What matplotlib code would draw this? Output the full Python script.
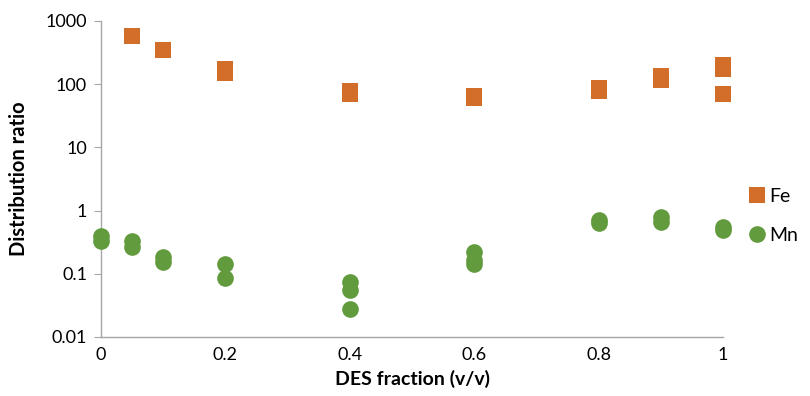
import matplotlib.pyplot as plt
import matplotlib.ticker as mticker

# data
fe_x = [0.05, 0.1, 0.2, 0.2, 0.4, 0.4, 0.6, 0.6, 0.8, 0.8, 0.9, 0.9, 1.0, 1.0, 1.0]
fe_d = [570, 345, 172, 148, 78, 70, 66, 61, 88, 77, 135, 116, 198, 172, 70]

mn_x = [0, 0, 0.05, 0.05, 0.1, 0.1, 0.2, 0.2, 0.4, 0.4, 0.4, 0.6, 0.6, 0.6,
        0.8, 0.8, 0.9, 0.9, 1.0, 1.0]
mn_d = [0.39, 0.335, 0.33, 0.27, 0.187, 0.156, 0.145, 0.087, 0.074, 0.056, 0.028,
        0.22, 0.165, 0.145, 0.72, 0.63, 0.80, 0.67, 0.56, 0.49]

xticks = [0, 0.2, 0.4, 0.6, 0.8, 1]
xticklabels = ['0', '0.2', '0.4', '0.6', '0.8', '1']
yticks = [0.01, 0.1, 1, 10, 100, 1000]
yticklabels = ['0.01', '0.1', '1', '10', '100', '1000']

plt.rcParams['font.family'] = ['Lato', 'DejaVu Sans']

fig = plt.figure(figsize=(8.1, 3.96), dpi=100)
ax = fig.add_axes([0.1247, 0.149, 0.7679, 0.798])

ax.plot(fe_x, fe_d, 's', color='#D26E2A', markersize=11.5, markeredgewidth=0,
        label='Fe', clip_on=False, zorder=3)
ax.plot(mn_x, mn_d, 'o', color='#619B3D', markersize=12, markeredgewidth=0,
        label='Mn', clip_on=False, zorder=3)

ax.set_yscale('log')
ax.set_xlim(0, 1)
ax.set_ylim(0.01, 1000)
ax.set_xticks(xticks)
ax.set_xticklabels(xticklabels)
ax.yaxis.set_major_locator(mticker.FixedLocator(yticks))
ax.yaxis.set_minor_locator(mticker.NullLocator())
ax.set_yticklabels(yticklabels)

for s in ['top', 'right']:
    ax.spines[s].set_visible(False)
for s in ['left', 'bottom']:
    ax.spines[s].set_color('#A6A6A6')
    ax.spines[s].set_linewidth(1.0)

ax.tick_params(axis='y', direction='out', length=5, color='#A6A6A6', labelsize=13, pad=5)
ax.tick_params(axis='x', length=0, labelsize=13, pad=7)

ax.set_xlabel('DES fraction (v/v)', fontsize=14, fontweight='bold', labelpad=5)
ax.set_ylabel('Distribution ratio', fontsize=14.5, fontweight='bold', labelpad=12)

fig.legend(loc='center left', bbox_to_anchor=(0.913, 0.455), frameon=False,
           fontsize=14, handletextpad=0.2, labelspacing=1.1, handlelength=0.95,
           borderaxespad=0)

fig.savefig('out.png', dpi=100)
